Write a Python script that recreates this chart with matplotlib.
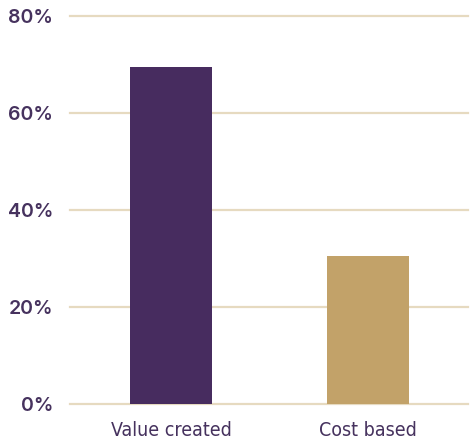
import matplotlib.pyplot as plt
from matplotlib.ticker import PercentFormatter

categories = ["Value created", "Cost based"]
values = [69.5, 30.5]
bar_colors = ["#472c5f", "#c2a269"]
yticks = [0, 20, 40, 60, 80]

text_color = "#46325e"
grid_color = "#e6dac0"

fig = plt.figure(figsize=(4.72, 4.43), dpi=100)
ax = fig.add_axes([70 / 472, 1 - 404 / 443, 398 / 472, 388 / 443])

x = range(len(categories))
ax.bar(x, values, width=0.415, color=bar_colors, zorder=3)

ax.set_ylim(0, 80)
ax.set_xlim(-0.513, 1.508)
ax.set_yticks(yticks)
ax.yaxis.set_major_formatter(PercentFormatter(decimals=0))
ax.set_xticks(list(x))
ax.set_xticklabels(categories)

# horizontal guide lines, not clipped so the 0% one shows in full
for t in yticks:
    ax.axhline(t, color=grid_color, linewidth=1.6, zorder=0, clip_on=False)
for s in ax.spines.values():
    s.set_visible(False)

ax.tick_params(axis="both", length=0)
ax.tick_params(axis="y", pad=12, labelsize=14, labelcolor=text_color)
ax.tick_params(axis="x", pad=12, labelsize=14, labelcolor=text_color)
for lab in ax.get_yticklabels():
    lab.set_fontfamily("Inter")
    lab.set_fontweight("semibold")
for lab in ax.get_xticklabels():
    lab.set_fontfamily("DejaVu Sans")
    lab.set_fontstretch("condensed")

fig.savefig("out.png", dpi=100)
